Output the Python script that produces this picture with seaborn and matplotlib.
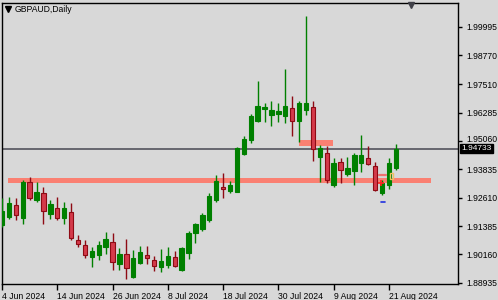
import numpy as np
import pandas as pd
import matplotlib
matplotlib.use("Agg")
import matplotlib.pyplot as plt
import matplotlib.transforms as mtransforms
import seaborn as sns

# ---------------- data ----------------
symbol_title = "GBPAUD,Daily"
dates = pd.bdate_range("2024-06-04", "2024-08-22")

opens = [1.91428, 1.91774, 1.92292, 1.91730, 1.93286, 1.92508, 1.92810, 1.91903, 1.92162, 1.91730,
         1.91990, 1.90780, 1.90564, 1.90046, 1.90132, 1.90478, 1.90694, 1.89743, 1.90175, 1.89182,
         1.89786, 1.90132, 1.89916, 1.89614, 1.89700, 1.90046, 1.89484, 1.90218, 1.91082, 1.91255,
         1.91644, 1.92508, 1.93070, 1.92897, 1.92854, 1.94495, 1.95100, 1.95921, 1.96439, 1.96180,
         1.96223, 1.96137, 1.96482, 1.95921, 1.96396, 1.96526, 1.94366, 1.94538, 1.93156, 1.94150,
         1.93631, 1.93761, 1.94106, 1.94322, 1.93977, 1.92810, 1.93156, 1.93890]
highs = [1.92594, 1.92638, 1.92594, 1.93372, 1.93502, 1.93286, 1.93070, 1.92508, 1.92638, 1.92422,
         1.92378, 1.90996, 1.90780, 1.90478, 1.90737, 1.91126, 1.91082, 1.90434, 1.90823, 1.90348,
         1.90521, 1.90521, 1.90089, 1.90391, 1.90478, 1.90305, 1.90478, 1.91169, 1.91514, 1.91946,
         1.92810, 1.93588, 1.93674, 1.93329, 1.94798, 1.95273, 1.96223, 1.97649, 1.96698, 1.96785,
         1.96698, 1.98167, 1.97001, 1.96785, 2.00457, 1.96785, 1.94884, 1.94841, 1.94322, 1.94322,
         1.94366, 1.94538, 1.95316, 1.94841, 1.94150, 1.93372, 1.94322, 1.94927]
lows = [1.91342, 1.91687, 1.91644, 1.91471, 1.92508, 1.92422, 1.91471, 1.91687, 1.91644, 1.91471,
        1.90780, 1.90478, 1.90002, 1.89614, 1.89916, 1.90175, 1.89484, 1.89484, 1.89095, 1.89138,
        1.89743, 1.89743, 1.89441, 1.89398, 1.89570, 1.89614, 1.89441, 1.89959, 1.90650, 1.91169,
        1.91558, 1.92422, 1.92594, 1.92810, 1.92854, 1.94452, 1.94970, 1.95878, 1.95878, 1.95705,
        1.95878, 1.95834, 1.95273, 1.95014, 1.96180, 1.94193, 1.93286, 1.93242, 1.93070, 1.93242,
        1.93545, 1.93156, 1.93718, 1.94020, 1.92897, 1.92724, 1.92983, 1.93804]
closes = [1.92033, 1.92378, 1.91860, 1.93286, 1.92594, 1.92854, 1.92033, 1.92335, 1.91730, 1.92162,
          1.90866, 1.90607, 1.90132, 1.90305, 1.90564, 1.90823, 1.89830, 1.90175, 1.89570, 1.90002,
          1.90262, 1.90002, 1.89657, 1.89873, 1.90089, 1.89657, 1.90434, 1.91082, 1.91471, 1.91860,
          1.92681, 1.93329, 1.92983, 1.93156, 1.94754, 1.95143, 1.96137, 1.96569, 1.96526, 1.96396,
          1.96353, 1.96569, 1.95921, 1.96698, 1.96698, 1.94711, 1.94754, 1.93372, 1.94106, 1.93804,
          1.93890, 1.94452, 1.94452, 1.94063, 1.92940, 1.93242, 1.94106, 1.94733]

current_price = 1.94733
support_zone = (1.93242, 1.93458)
resistance_zone = (1.94841, 1.95100)
y_tick_values = [1.99995, 1.98770, 1.97510, 1.96285, 1.95060, 1.93835, 1.92610, 1.91385, 1.90160, 1.88935]
y_tick_labels = ["1.99995", "1.98770", "1.97510", "1.96285", "1.95060", "1.93835", "1.92610", "1.91385", "1.90160", "1.88935"]
x_tick_labels = ["4 Jun 2024", "14 Jun 2024", "26 Jun 2024", "8 Jul 2024", "18 Jul 2024",
                 "30 Jul 2024", "9 Aug 2024", "21 Aug 2024"]
x_tick_dates = ["2024-06-04", "2024-06-14", "2024-06-26", "2024-07-08", "2024-07-18",
                "2024-07-30", "2024-08-09", "2024-08-21"]

df = pd.DataFrame({"date": dates, "open": opens, "high": highs, "low": lows, "close": closes})
df["idx"] = np.arange(len(df))
df["bull"] = df["close"] >= df["open"]

# ---------------- style ----------------
sns.set_theme(style="white")
BG = "#D8D8D8"
plt.rcParams["font.family"] = ["Liberation Sans", "DejaVu Sans"]

fig = plt.figure(figsize=(4.98, 3.0), dpi=100, facecolor=BG)
W, H = 498, 300
ax = fig.add_axes([2 / W, 16 / H, 456 / W, 281 / H], facecolor=BG)

GREEN = "#008000"
RED_FILL = "#D43A4A"
RED_EDGE = "#8E0A14"

# zones
ax.fill_between([0.87, 62.1], support_zone[0], support_zone[1], color="#FA8072", lw=0, zorder=1)
ax.fill_between([43.0, 47.9], resistance_zone[0], resistance_zone[1], color="#FA8072", lw=0, zorder=1)

# current price line
ax.axhline(current_price, color="#5E5E66", lw=1.3, zorder=2)

# candles
for _, r in df.iterrows():
    x = r["idx"]
    if r["bull"]:
        wc, fc, ec = GREEN, GREEN, GREEN
    else:
        wc, fc, ec = RED_EDGE, RED_FILL, RED_EDGE
    ax.vlines(x, r["low"], r["high"], color=wc, lw=1.0, zorder=3)
    lo, hi = min(r["open"], r["close"]), max(r["open"], r["close"])
    h = max(hi - lo, 0.0004)
    ax.bar(x, h, bottom=lo, width=0.64, color=fc, edgecolor=ec, linewidth=0.8, zorder=4)

# small trade markers around 20 Aug
ax.plot([54.6, 55.6], [1.93588, 1.93588], color="#F07070", lw=1.6, zorder=5)
ax.add_patch(plt.Rectangle((56.2, 1.93415), 0.45, 0.0026, fc="none", ec="#F0C060", lw=1.0, zorder=5))
ax.plot([54.8], [1.93242], marker="+", color="#FF2020", ms=5, mew=1.2, zorder=6)
ax.plot([54.8, 55.5], [1.92422, 1.92422], color="#2030E0", lw=1.2, zorder=5)

# axes limits and ticks
ax.set_xlim(0, 66.0)
ax.set_ylim(1.888796, 2.010188)
ax.yaxis.tick_right()
ax.set_yticks(y_tick_values)
ax.set_yticklabels(y_tick_labels)
tick_idx = [int(df.index[df["date"] == pd.Timestamp(d)][0]) for d in x_tick_dates]
ax.set_xticks(tick_idx)
ax.set_xticklabels(x_tick_labels, ha="left")
ax.tick_params(axis="y", which="both", direction="out", length=3, width=1, pad=3,
               labelsize=6.2, colors="black", right=True, left=False)
ax.tick_params(axis="x", which="both", direction="out", length=4, width=1, pad=1.5,
               labelsize=6.2, colors="black", bottom=True)
# the label just above the price box sits a touch higher so the two do not collide
for lab in ax.get_yticklabels():
    if lab.get_text() == "1.95060":
        lab.set_transform(lab.get_transform() + mtransforms.ScaledTranslation(0, 2.5 / 100, fig.dpi_scale_trans))
for s in ax.spines.values():
    s.set_color("black")
    s.set_linewidth(1.0)
    s.set_visible(True)
ax.grid(False)

# price label box
trans = mtransforms.blended_transform_factory(ax.transAxes, ax.transData)
ax.text(1 + 3 / 456, current_price, f"{current_price:.5f}", transform=trans, ha="left", va="center",
        fontsize=6.0, color="white", zorder=10, clip_on=False,
        bbox=dict(boxstyle="square,pad=0.15", fc="black", ec="black"))

# title and markers
fig.text(15 / W, 1 - 9 / H, symbol_title, ha="left", va="center", fontsize=6.2, color="black")
fig.lines.append(plt.Line2D([8 / W], [1 - 9 / H], marker="v", ms=4, color="black",
                            transform=fig.transFigure))
fig.lines.append(plt.Line2D([411 / W], [1 - 5 / H], marker="v", ms=4.5, color="#404048",
                            transform=fig.transFigure))

fig.savefig("out.png", dpi=100, facecolor=BG)
